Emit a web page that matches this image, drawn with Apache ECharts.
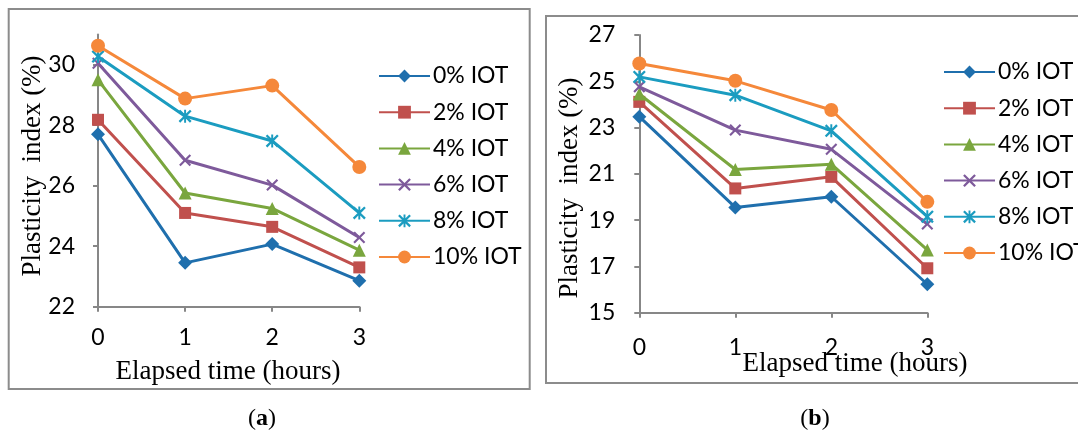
<!DOCTYPE html>
<html>
<head>
<meta charset="utf-8">
<script src="https://cdn.jsdelivr.net/npm/echarts@6/dist/echarts.min.js"></script>
<style>
html,body{margin:0;padding:0;background:#fff;}
#c{width:1078px;height:432px;}
</style>
</head>
<body>
<div id="c"></div>
<script>
// ---- data ----
const categories = ['0', '1', '2', '3'];
const seriesNames = ['0% IOT', '2% IOT', '4% IOT', '6% IOT', '8% IOT', '10% IOT'];
const yTicksA = [22, 24, 26, 28, 30];
const yTicksB = [15, 17, 19, 21, 23, 25, 27];

// panel (a)
const a0 = [27.70, 23.45, 24.07, 22.86];
const a2 = [28.18, 25.10, 24.64, 23.30];
const a4 = [29.50, 25.76, 25.25, 23.87];
const a6 = [30.05, 26.84, 26.02, 24.29];
const a8 = [30.27, 28.30, 27.48, 25.10];
const a10 = [30.63, 28.88, 29.31, 26.62];
// panel (b)
const b0 = [23.47, 19.55, 20.01, 16.23];
const b2 = [24.11, 20.37, 20.87, 16.92];
const b4 = [24.45, 21.19, 21.42, 17.71];
const b6 = [24.76, 22.89, 22.06, 18.83];
const b8 = [25.19, 24.40, 22.86, 19.15];
const b10 = [25.77, 25.02, 23.76, 19.79];

const dataA = [a0, a2, a4, a6, a8, a10];
const dataB = [b0, b2, b4, b6, b8, b10];

// ---- styles ----
const colors = ['#1f6fad', '#c0504d', '#7aa63e', '#7e5a9b', '#1b9cc0', '#f5883a'];
const xShape = 'path://M0,1.5L1.5,0L6,4.5L10.5,0L12,1.5L7.5,6L12,10.5L10.5,12L6,7.5L1.5,12L0,10.5L4.5,6Z';
const starShape = 'path://M0,1.5L1.5,0L6,4.5L10.5,0L12,1.5L7.5,6L12,10.5L10.5,12L6,7.5L1.5,12L0,10.5L4.5,6Z M5.1,0L6.9,0L6.9,12L5.1,12Z';
const symbols = ['diamond', 'rect', 'triangle', xShape, starShape, 'circle'];
const symbolSizes = [14, 12, 13, 12, 13, 14];

const axisGray = '#878787';
const tickFont = 'Lato';

function makeSeries(data, idx) {
  return data.map((d, i) => ({
    type: 'line',
    name: seriesNames[i],
    xAxisIndex: idx,
    yAxisIndex: idx,
    data: d,
    symbol: symbols[i],
    symbolSize: symbolSizes[i],
    showSymbol: true,
    lineStyle: { width: 3, color: colors[i] },
    itemStyle: { color: colors[i] },
    emphasis: { disabled: true },
    z: 2 + i
  }));
}

function xAxis(gridIndex, margin) {
  return {
    type: 'category',
    gridIndex: gridIndex,
    data: categories,
    boundaryGap: false,
    axisLine: { lineStyle: { color: axisGray, width: 2 } },
    axisTick: { alignWithLabel: true, length: 5, lineStyle: { color: axisGray, width: 2 } },
    axisLabel: { color: '#000', fontFamily: tickFont, fontSize: 23, margin: margin },
    splitLine: { show: false }
  };
}

function yAxis(gridIndex, min, max, ticks, margin) {
  return {
    type: 'value',
    gridIndex: gridIndex,
    min: min,
    max: max,
    axisLine: { show: true, lineStyle: { color: axisGray, width: 2 } },
    axisTick: { show: true, length: 5, customValues: ticks, lineStyle: { color: axisGray, width: 2 } },
    axisLabel: { color: '#000', fontFamily: tickFont, fontSize: 23, margin: margin, customValues: ticks },
    splitLine: { show: false }
  };
}

function legend(left, top) {
  return {
    orient: 'vertical',
    left: left,
    top: top,
    padding: 0,
    itemWidth: 51,
    itemHeight: 16,
    itemGap: 13.2,
    selectedMode: false,
    data: seriesNames,
    textStyle: { color: '#000', fontFamily: tickFont, fontSize: 23, lineHeight: 22, padding: [0, 0, 0, -2] }
  };
}

const serifFont = '"Liberation Serif", "Times New Roman", serif';

const chart = echarts.init(document.getElementById('c'), null, { renderer: 'canvas' });
chart.setOption({
  animation: false,
  backgroundColor: '#fff',
  grid: [
    { left: 98, top: 34.5, width: 261.3, height: 272.2, containLabel: false },
    { left: 639.3, top: 35, width: 288, height: 277.7, containLabel: false }
  ],
  xAxis: [xAxis(0, 19), xAxis(1, 23)],
  yAxis: [yAxis(0, 22, 31, yTicksA, 23), yAxis(1, 15, 27, yTicksB, 24)],
  legend: [legend(378, 64.5), legend(943, 60.5)],
  series: makeSeries(dataA, 0).concat(makeSeries(dataB, 1)),
  graphic: [
    { type: 'rect', shape: { x: 8.7, y: 9, width: 521, height: 380 }, style: { fill: 'none', stroke: '#8c8c8c', lineWidth: 2 }, silent: true },
    { type: 'rect', shape: { x: 546, y: 16, width: 540, height: 367 }, style: { fill: 'none', stroke: '#8c8c8c', lineWidth: 2 }, silent: true },
    { type: 'text', x: 33, y: 166, rotation: Math.PI / 2,
      style: { text: 'Plasticity  index (%)', font: '27px ' + serifFont, fill: '#000', align: 'center', verticalAlign: 'middle', textAlign: 'center', textVerticalAlign: 'middle' } },
    { type: 'text', x: 228, y: 372,
      style: { text: 'Elapsed time (hours)', font: '27px ' + serifFont, fill: '#000', align: 'center', verticalAlign: 'middle', textAlign: 'center', textVerticalAlign: 'middle' } },
    { type: 'text', x: 570, y: 188, rotation: Math.PI / 2,
      style: { text: 'Plasticity  index (%)', font: '27px ' + serifFont, fill: '#000', align: 'center', verticalAlign: 'middle', textAlign: 'center', textVerticalAlign: 'middle' } },
    { type: 'text', x: 855, y: 364,
      style: { text: 'Elapsed time (hours)', font: '27px ' + serifFont, fill: '#000', align: 'center', verticalAlign: 'middle', textAlign: 'center', textVerticalAlign: 'middle' } },
    { type: 'text', x: 262, y: 419,
      style: { text: '({b|a})', font: '24px ' + serifFont, fill: '#000', align: 'center', verticalAlign: 'middle', textAlign: 'center', textVerticalAlign: 'middle',
        rich: { b: { fontWeight: 'bold', fontSize: 24, fontFamily: serifFont } } } },
    { type: 'text', x: 815, y: 419,
      style: { text: '({b|b})', font: '24px ' + serifFont, fill: '#000', align: 'center', verticalAlign: 'middle', textAlign: 'center', textVerticalAlign: 'middle',
        rich: { b: { fontWeight: 'bold', fontSize: 24, fontFamily: serifFont } } } }
  ]
});
</script>
</body>
</html>
